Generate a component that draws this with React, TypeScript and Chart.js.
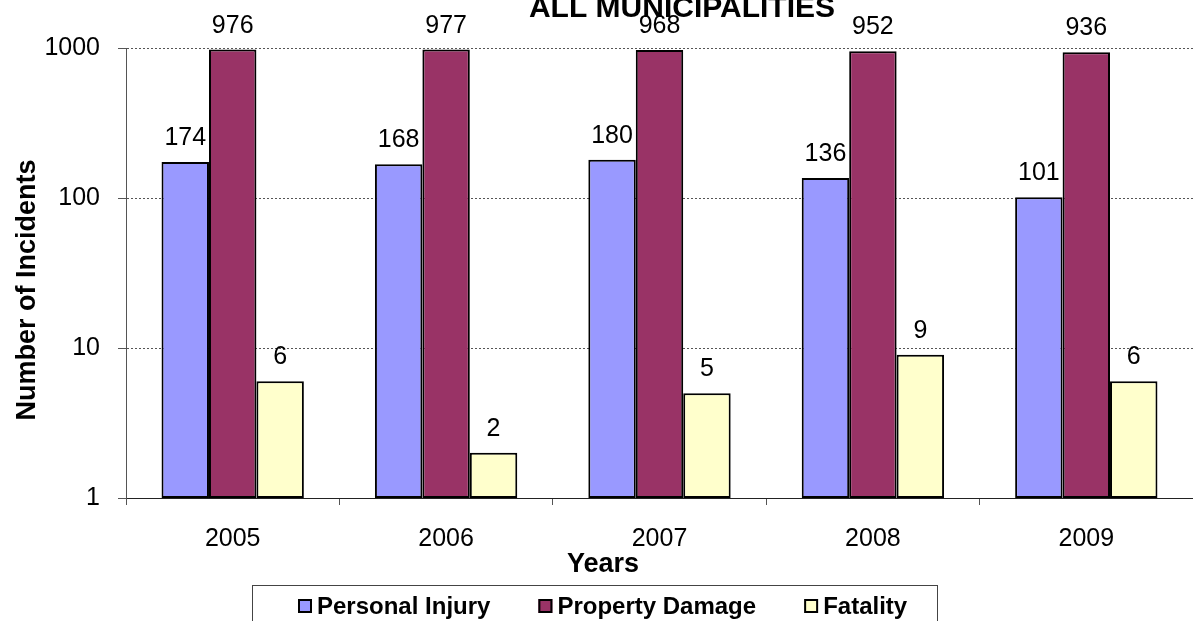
import React, { useEffect, useRef } from "react";
import { Chart, registerables } from "chart.js";

Chart.register(...registerables);

const years = ["2005", "2006", "2007", "2008", "2009"];
const personalInjury = [174, 168, 180, 136, 101];
const propertyDamage = [976, 977, 968, 952, 936];
const fatality = [6, 2, 5, 9, 6];
const yTickValues = [1, 10, 100, 1000];
const seriesNames = ["Personal Injury", "Property Damage", "Fatality"];
const seriesColors = ["#9999FF", "#993366", "#FFFFCC"];
const chartTitle = "ALL MUNICIPALITIES";
const xTitle = "Years";
const yTitle = "Number of Incidents";

const FONT = "'Liberation Sans', Arial, sans-serif";

const decorPlugin = {
  id: "decor",
  afterDatasetsDraw(chart: any) {
    const ctx = chart.ctx;
    ctx.save();
    ctx.fillStyle = "#000";
    ctx.font = `25px ${FONT}`;
    ctx.textAlign = "center";
    ctx.textBaseline = "alphabetic";
    chart.data.datasets.forEach((ds: any, i: number) => {
      const meta = chart.getDatasetMeta(i);
      meta.data.forEach((el: any, j: number) => {
        ctx.fillText(String(ds.data[j]), el.x, el.y - 17);
      });
    });
    ctx.restore();
  },
  afterDraw(chart: any) {
    const ctx = chart.ctx;
    ctx.save();
    ctx.fillStyle = "#000";
    // Title
    ctx.font = `bold 30px ${FONT}`;
    ctx.textAlign = "center";
    ctx.textBaseline = "alphabetic";
    ctx.fillText(chartTitle, 682, 17);
    // X title
    ctx.font = `bold 27px ${FONT}`;
    ctx.fillText(xTitle, 603, 572);
    // Y title
    ctx.save();
    ctx.translate(35, 290);
    ctx.rotate(-Math.PI / 2);
    ctx.fillText(yTitle, 0, 0);
    ctx.restore();
    // Legend box
    const boxL = 252;
    const boxT = 585;
    const boxR = 937;
    ctx.strokeStyle = "#444";
    ctx.lineWidth = 1;
    ctx.strokeRect(boxL + 0.5, boxT + 0.5, boxR - boxL, 60);
    ctx.font = `bold 24px ${FONT}`;
    ctx.textAlign = "left";
    let x = boxL + 46;
    chart.data.datasets.forEach((ds: any) => {
      ctx.fillStyle = ds.backgroundColor;
      ctx.fillRect(x, 599, 14, 14);
      ctx.strokeStyle = "#000";
      ctx.lineWidth = 2;
      ctx.strokeRect(x + 1, 600, 12, 12);
      ctx.fillStyle = "#000";
      ctx.fillText(ds.label, x + 19, 614);
      x += 19 + ctx.measureText(ds.label).width + 48;
    });
    ctx.restore();
  },
};

export default function App() {
  const canvasRef = useRef<HTMLCanvasElement | null>(null);

  useEffect(() => {
    const canvas = canvasRef.current;
    if (!canvas) return;
    const seriesData = [personalInjury, propertyDamage, fatality];
    const chart = new Chart(canvas, {
      type: "bar",
      data: {
        labels: years,
        datasets: seriesNames.map((name, i) => ({
          label: name,
          data: seriesData[i],
          backgroundColor: seriesColors[i],
          borderColor: "#000",
          borderWidth: 2,
          borderSkipped: false,
          categoryPercentage: 0.667,
          barPercentage: 1,
        })),
      },
      options: {
        responsive: false,
        animation: false,
        devicePixelRatio: 1,
        layout: { padding: { top: 48, left: 0, right: 0, bottom: 0 } },
        plugins: {
          legend: { display: false },
          title: { display: false },
          tooltip: { enabled: false },
        },
        scales: {
          x: {
            type: "category",
            offset: true,
            afterFit(scale: any) {
              scale.height = 123;
            },
            grid: {
              offset: true,
              drawOnChartArea: false,
              drawTicks: true,
              tickLength: 7,
              color: "#555",
            },
            border: { display: true, color: "#222", width: 1 },
            ticks: {
              color: "#000",
              font: { family: FONT, size: 25 },
              padding: 19,
              maxRotation: 0,
            },
          },
          y: {
            type: "logarithmic",
            min: 1,
            max: 1000,
            afterFit(scale: any) {
              scale.width = 126;
            },
            afterBuildTicks(scale: any) {
              scale.ticks = yTickValues.map((v) => ({ value: v }));
            },
            grid: {
              color: "#555",
              lineWidth: 1,
              drawTicks: true,
              tickLength: 8,
              tickBorderDash: [],
            },
            border: { display: true, color: "#555", width: 1, dash: [2, 2] },
            ticks: {
              color: "#000",
              font: { family: FONT, size: 25 },
              padding: 18,
              callback: (v: any) => String(v),
            },
          },
        },
      },
      plugins: [decorPlugin],
    });
    return () => chart.destroy();
  }, []);

  return (
    <div style={{ position: "absolute", left: 0, top: 0, width: 1193, height: 621, background: "#fff" }}>
      <canvas ref={canvasRef} width={1193} height={621} style={{ display: "block", width: 1193, height: 621 }} />
    </div>
  );
}
